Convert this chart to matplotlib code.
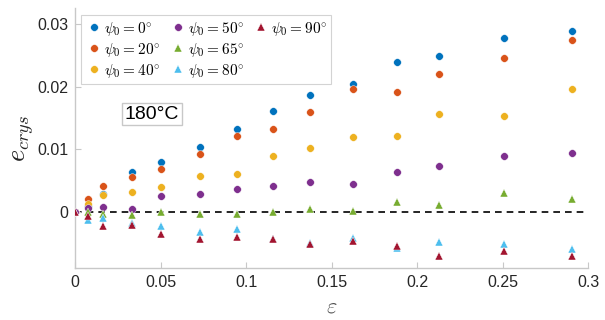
import numpy as np
import matplotlib.pyplot as plt
from matplotlib.lines import Line2D

plt.rcParams['mathtext.fontset'] = 'cm'
plt.rcParams['font.family'] = ['Liberation Sans', 'DejaVu Sans']

# strain values (shared by all series)
strain = [0, 0.0078, 0.0163, 0.0331, 0.0504, 0.0728, 0.0947, 0.116,
          0.1375, 0.1624, 0.188, 0.2128, 0.2507, 0.2907]

angles = [0, 20, 40, 50, 65, 80, 90]

e_0 = [0, 0.0009, 0.0029, 0.0063, 0.0080, 0.0104, 0.0133, 0.0162,
       0.0187, 0.0205, 0.0240, 0.0250, 0.0278, 0.0289]
e_20 = [0, 0.0020, 0.0041, 0.0056, 0.0069, 0.0093, 0.0121, 0.0132,
        0.0160, 0.0197, 0.0192, 0.0220, 0.0246, 0.0275]
e_40 = [0, 0.0012, 0.0027, 0.0031, 0.0040, 0.0057, 0.0060, 0.0089,
        0.0102, 0.0119, 0.0122, 0.0157, 0.0154, 0.0197]
e_50 = [0, 0.0006, 0.0008, 0.0004, 0.0026, 0.0029, 0.0036, 0.0041,
        0.0047, 0.0045, 0.0063, 0.0073, 0.0089, 0.0094]
e_65 = [0, -0.0001, -0.0003, -0.0005, 0.0000, -0.0004, -0.0004, -0.0001,
        0.0005, 0.0001, 0.0015, 0.0011, 0.0030, 0.0021]
e_80 = [0, -0.0013, -0.0010, -0.0018, -0.0023, -0.0032, -0.0028, -0.0043,
        -0.0050, -0.0042, -0.0058, -0.0048, -0.0052, -0.0060]
e_90 = [0, -0.0006, -0.0023, -0.0021, -0.0036, -0.0044, -0.0040, -0.0044,
        -0.0052, -0.0046, -0.0054, -0.0070, -0.0063, -0.0071]

series = [e_0, e_20, e_40, e_50, e_65, e_80, e_90]
colors = ['#0072BD', '#D95319', '#EDB120', '#7E2F8E',
          '#77AC30', '#4DBEEE', '#A2142F']
markers = ['o', 'o', 'o', 'o', '^', '^', '^']

fig = plt.figure(figsize=(6.05, 3.2), dpi=100)
ax = fig.add_axes([0.124, 0.1625, 0.848, 0.8125])

ax.axhline(0, color='black', ls=(0, (4, 3)), lw=1.2, zorder=1)

handles = []
for ang, vals, c, m in zip(angles, series, colors, markers):
    h, = ax.plot(strain, vals, ls='none', marker=m, color=c, ms=5.5,
                 markeredgecolor='white', markeredgewidth=0.3,
                 label=rf'$\psi_0 = {ang}\!^\circ$', zorder=3)
    handles.append(h)

# MATLAB-style legend fill: 3 + 3 + 1
blank = Line2D([], [], ls='none', marker='none')
leg_handles = handles + [blank, blank]
leg_labels = [h.get_label() for h in handles] + ['', '']

ax.set_xlim(0, 0.3)
ax.set_ylim(-0.009, 0.0326)
ax.set_xticks([0, 0.05, 0.1, 0.15, 0.2, 0.25, 0.3])
ax.set_xticklabels(['0', '0.05', '0.1', '0.15', '0.2', '0.25', '0.3'])
ax.set_yticks([0, 0.01, 0.02, 0.03])
ax.set_yticklabels(['0', '0.01', '0.02', '0.03'])

for s in ['top', 'right']:
    ax.spines[s].set_visible(False)
for s in ['left', 'bottom']:
    ax.spines[s].set_color('#c8c8c8')
    ax.spines[s].set_linewidth(1.0)
ax.tick_params(direction='in', length=4, color='#c8c8c8',
               labelsize=11.5, labelcolor='#262626', pad=5)

ax.set_xlabel(r'$\varepsilon$', fontsize=16, color='#505050', labelpad=5)
ax.set_ylabel(r'$e_{crys}$', fontsize=19, color='#262626', labelpad=1)

leg = ax.legend(leg_handles, leg_labels, loc='upper left', ncol=3,
                fontsize=11, frameon=True, fancybox=False,
                edgecolor='#c8c8c8', handletextpad=0.05,
                columnspacing=0.55, labelspacing=0.2, borderpad=0.3,
                handlelength=1.2, bbox_to_anchor=(0.005, 0.985),
                borderaxespad=0.2)
leg.get_frame().set_linewidth(0.8)

ax.text(0.15, 0.592, '180°C', transform=ax.transAxes, fontsize=14,
        ha='center', va='center',
        bbox=dict(boxstyle='square,pad=0.15', fc='white',
                  ec='#c8c8c8', lw=1.0))

fig.savefig('out.png', dpi=100)
